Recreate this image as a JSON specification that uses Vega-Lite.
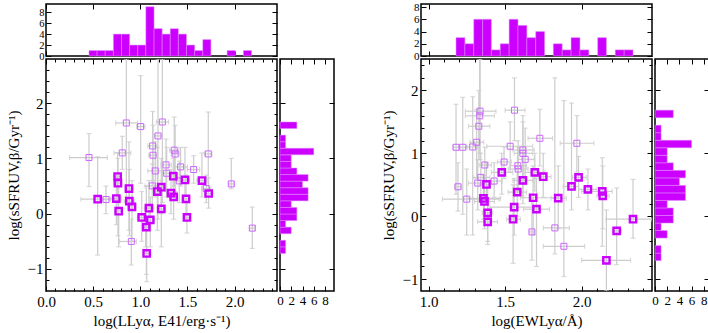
{
"$schema":"https://vega.github.io/schema/vega-lite/v6.json",
"padding":{"left":5,"top":0,"right":0,"bottom":0},
"config":{"font":"Liberation Serif","view":{"stroke":"black","strokeWidth":1.5},
"axis":{"domain":false,"grid":false,"tickColor":"black","tickWidth":1,"tickSize":-5,"labelPadding":8,"labelFontSize":15,"titleFontSize":15,"titleFontWeight":"normal","labelColor":"black","titleColor":"black","labelFont":"Liberation Serif","titleFont":"Liberation Serif","labelFlush":false,"labelOverlap":false,"labelBound":false}},
"datasets":{
"ptsL":[
{"k":"t","x":0.456,"y":1.016,"xlo":0.25,"xhi":0.65,"ylo":0.49,"yhi":1.45},
{"k":"t","x":0.852,"y":1.642,"xlo":0.74,"xhi":0.97,"ylo":0.3,"yhi":2.8},
{"k":"t","x":1.004,"y":1.576,"xlo":0.96,"xhi":1.05,"ylo":0.55,"yhi":2.5},
{"k":"t","x":1.234,"y":1.66,"xlo":1.17,"xhi":1.3,"ylo":0.2,"yhi":2.8},
{"k":"t","x":1.188,"y":1.407,"xlo":1.15,"xhi":1.23,"ylo":-0.1,"yhi":2.8},
{"k":"t","x":1.131,"y":1.226,"xlo":1.08,"xhi":1.18,"ylo":0.6,"yhi":1.85},
{"k":"t","x":1.135,"y":1.058,"xlo":1.09,"xhi":1.18,"ylo":0.5,"yhi":1.6},
{"k":"t","x":0.809,"y":1.1,"xlo":0.72,"xhi":0.9,"ylo":0.8,"yhi":1.4},
{"k":"t","x":1.36,"y":1.15,"xlo":1.31,"xhi":1.41,"ylo":0.5,"yhi":1.75},
{"k":"t","x":1.37,"y":1.08,"xlo":1.33,"xhi":1.42,"ylo":0.4,"yhi":1.6},
{"k":"t","x":1.721,"y":1.082,"xlo":1.68,"xhi":1.76,"ylo":0.45,"yhi":1.84},
{"k":"t","x":0.636,"y":0.256,"xlo":0.6,"xhi":0.68,"ylo":0.0,"yhi":0.5},
{"k":"t","x":1.159,"y":0.774,"xlo":1.08,"xhi":1.24,"ylo":0.3,"yhi":1.3},
{"k":"t","x":1.273,"y":0.883,"xlo":1.22,"xhi":1.33,"ylo":0.4,"yhi":1.35},
{"k":"t","x":1.428,"y":0.847,"xlo":1.36,"xhi":1.5,"ylo":0.5,"yhi":1.2},
{"k":"t","x":1.28,"y":0.732,"xlo":1.23,"xhi":1.33,"ylo":0.3,"yhi":1.2},
{"k":"t","x":1.566,"y":0.799,"xlo":1.5,"xhi":1.63,"ylo":0.55,"yhi":1.05},
{"k":"t","x":1.414,"y":0.593,"xlo":1.35,"xhi":1.48,"ylo":0.2,"yhi":0.95},
{"k":"t","x":1.127,"y":0.503,"xlo":1.05,"xhi":1.2,"ylo":0.1,"yhi":0.9},
{"k":"t","x":1.7,"y":0.455,"xlo":1.65,"xhi":1.75,"ylo":0.2,"yhi":0.7},
{"k":"t","x":1.965,"y":0.539,"xlo":1.94,"xhi":1.99,"ylo":0.45,"yhi":1.0},
{"k":"t","x":0.905,"y":-0.503,"xlo":0.78,"xhi":0.96,"ylo":-0.93,"yhi":-0.1},
{"k":"t","x":1.057,"y":-0.244,"xlo":1.01,"xhi":1.1,"ylo":-0.6,"yhi":0.1},
{"k":"t","x":2.188,"y":-0.262,"xlo":2.16,"xhi":2.21,"ylo":-0.63,"yhi":0.12},
{"k":"T","x":0.548,"y":0.262,"xlo":0.37,"xhi":0.74,"ylo":-0.75,"yhi":1.03},
{"k":"T","x":0.76,"y":0.673,"xlo":0.72,"xhi":0.8,"ylo":0.2,"yhi":1.1},
{"k":"T","x":0.763,"y":0.552,"xlo":0.72,"xhi":0.8,"ylo":-0.4,"yhi":1.0},
{"k":"T","x":0.88,"y":0.455,"xlo":0.84,"xhi":0.92,"ylo":-0.3,"yhi":1.3},
{"k":"T","x":0.746,"y":0.274,"xlo":0.68,"xhi":0.8,"ylo":-0.2,"yhi":0.7},
{"k":"T","x":0.884,"y":0.226,"xlo":0.83,"xhi":0.94,"ylo":-0.4,"yhi":0.8},
{"k":"T","x":0.912,"y":0.123,"xlo":0.87,"xhi":0.95,"ylo":-0.5,"yhi":0.6},
{"k":"T","x":0.771,"y":0.045,"xlo":0.73,"xhi":0.81,"ylo":-0.6,"yhi":0.5},
{"k":"T","x":1.015,"y":-0.069,"xlo":0.97,"xhi":1.06,"ylo":-0.5,"yhi":0.4},
{"k":"T","x":1.092,"y":0.099,"xlo":1.05,"xhi":1.13,"ylo":-0.3,"yhi":0.6},
{"k":"T","x":1.106,"y":-0.112,"xlo":1.06,"xhi":1.15,"ylo":-0.6,"yhi":0.3},
{"k":"T","x":1.064,"y":-0.244,"xlo":1.02,"xhi":1.11,"ylo":-1.1,"yhi":0.5},
{"k":"T","x":1.181,"y":0.401,"xlo":1.14,"xhi":1.22,"ylo":-0.3,"yhi":1.2},
{"k":"T","x":1.223,"y":0.479,"xlo":1.19,"xhi":1.26,"ylo":0.0,"yhi":1.0},
{"k":"T","x":1.35,"y":0.678,"xlo":1.31,"xhi":1.39,"ylo":0.3,"yhi":1.0},
{"k":"T","x":1.326,"y":0.371,"xlo":1.28,"xhi":1.37,"ylo":0.0,"yhi":0.8},
{"k":"T","x":1.354,"y":0.304,"xlo":1.31,"xhi":1.4,"ylo":-0.1,"yhi":0.7},
{"k":"T","x":1.223,"y":0.087,"xlo":1.18,"xhi":1.27,"ylo":-0.6,"yhi":0.6},
{"k":"T","x":1.474,"y":0.611,"xlo":1.43,"xhi":1.52,"ylo":0.2,"yhi":1.2},
{"k":"T","x":1.485,"y":0.268,"xlo":1.45,"xhi":1.52,"ylo":-0.1,"yhi":0.7},
{"k":"T","x":1.495,"y":-0.069,"xlo":1.46,"xhi":1.53,"ylo":-0.35,"yhi":0.2},
{"k":"T","x":1.654,"y":0.599,"xlo":1.6,"xhi":1.71,"ylo":0.3,"yhi":1.1},
{"k":"T","x":1.725,"y":0.365,"xlo":1.68,"xhi":1.77,"ylo":0.1,"yhi":0.65},
{"k":"T","x":1.068,"y":-0.72,"xlo":1.03,"xhi":1.11,"ylo":-1.23,"yhi":-0.24}
],
"ptsR":[
{"k":"t","x":1.179,"y":1.096,"xlo":1.16,"xhi":1.2,"ylo":0.35,"yhi":1.78},
{"k":"t","x":1.223,"y":1.096,"xlo":1.2,"xhi":1.25,"ylo":0.03,"yhi":1.89},
{"k":"t","x":1.192,"y":0.468,"xlo":1.17,"xhi":1.21,"ylo":0.08,"yhi":0.85},
{"k":"t","x":1.249,"y":0.271,"xlo":1.09,"xhi":1.46,"ylo":-0.3,"yhi":0.75},
{"k":"t","x":1.288,"y":1.101,"xlo":1.25,"xhi":1.32,"ylo":-0.3,"yhi":1.9},
{"k":"t","x":1.314,"y":1.176,"xlo":1.27,"xhi":1.36,"ylo":0.6,"yhi":1.7},
{"k":"t","x":1.328,"y":1.431,"xlo":1.26,"xhi":1.4,"ylo":0.9,"yhi":2.0},
{"k":"t","x":1.334,"y":1.596,"xlo":1.24,"xhi":1.43,"ylo":1.0,"yhi":2.5},
{"k":"t","x":1.336,"y":1.67,"xlo":1.24,"xhi":1.44,"ylo":0.9,"yhi":2.5},
{"k":"t","x":1.321,"y":0.527,"xlo":1.26,"xhi":1.38,"ylo":0.1,"yhi":0.9},
{"k":"t","x":1.341,"y":0.617,"xlo":1.29,"xhi":1.4,"ylo":0.25,"yhi":1.0},
{"k":"t","x":1.367,"y":0.814,"xlo":1.33,"xhi":1.41,"ylo":0.5,"yhi":1.1},
{"k":"t","x":1.428,"y":0.559,"xlo":1.37,"xhi":1.48,"ylo":0.3,"yhi":0.85},
{"k":"t","x":1.493,"y":0.862,"xlo":1.45,"xhi":1.54,"ylo":0.6,"yhi":1.1},
{"k":"t","x":1.533,"y":1.112,"xlo":1.38,"xhi":1.68,"ylo":0.7,"yhi":1.5},
{"k":"t","x":1.561,"y":1.686,"xlo":1.5,"xhi":1.63,"ylo":1.2,"yhi":2.2},
{"k":"t","x":1.583,"y":0.803,"xlo":1.53,"xhi":1.64,"ylo":0.5,"yhi":1.1},
{"k":"t","x":1.585,"y":0.75,"xlo":1.52,"xhi":1.65,"ylo":0.4,"yhi":1.2},
{"k":"t","x":1.616,"y":1.053,"xlo":1.55,"xhi":1.69,"ylo":0.6,"yhi":1.5},
{"k":"t","x":1.616,"y":1.0,"xlo":1.56,"xhi":1.68,"ylo":0.3,"yhi":1.6},
{"k":"t","x":1.631,"y":0.904,"xlo":1.58,"xhi":1.69,"ylo":0.5,"yhi":1.4},
{"k":"t","x":1.727,"y":1.239,"xlo":1.65,"xhi":1.81,"ylo":0.8,"yhi":1.7},
{"k":"t","x":1.675,"y":-0.25,"xlo":1.66,"xhi":1.69,"ylo":-0.7,"yhi":0.3},
{"k":"t","x":1.825,"y":-0.186,"xlo":1.75,"xhi":1.92,"ylo":-0.6,"yhi":2.2},
{"k":"t","x":1.884,"y":-0.479,"xlo":1.75,"xhi":2.02,"ylo":-0.96,"yhi":1.84},
{"k":"t","x":1.969,"y":1.16,"xlo":1.86,"xhi":2.08,"ylo":0.7,"yhi":1.6},
{"k":"T","x":1.378,"y":0.505,"xlo":1.33,"xhi":1.43,"ylo":0.2,"yhi":0.85},
{"k":"T","x":1.358,"y":0.282,"xlo":1.25,"xhi":1.47,"ylo":-0.05,"yhi":0.65},
{"k":"T","x":1.365,"y":0.234,"xlo":1.3,"xhi":1.43,"ylo":-0.2,"yhi":0.6},
{"k":"T","x":1.386,"y":0.053,"xlo":1.35,"xhi":1.42,"ylo":-0.4,"yhi":0.5},
{"k":"T","x":1.386,"y":-0.09,"xlo":1.32,"xhi":1.45,"ylo":-0.45,"yhi":0.3},
{"k":"T","x":1.478,"y":0.697,"xlo":1.41,"xhi":1.55,"ylo":0.35,"yhi":1.0},
{"k":"T","x":1.579,"y":0.383,"xlo":1.52,"xhi":1.64,"ylo":0.0,"yhi":0.8},
{"k":"T","x":1.559,"y":0.144,"xlo":1.4,"xhi":1.72,"ylo":-0.3,"yhi":0.6},
{"k":"T","x":1.552,"y":-0.048,"xlo":1.51,"xhi":1.6,"ylo":-0.75,"yhi":0.5},
{"k":"T","x":1.616,"y":0.569,"xlo":1.55,"xhi":1.68,"ylo":0.2,"yhi":1.0},
{"k":"T","x":1.694,"y":0.697,"xlo":1.63,"xhi":1.76,"ylo":0.4,"yhi":1.0},
{"k":"T","x":1.683,"y":0.293,"xlo":1.6,"xhi":1.85,"ylo":-0.3,"yhi":0.8},
{"k":"T","x":1.705,"y":0.112,"xlo":1.62,"xhi":1.79,"ylo":-0.8,"yhi":0.6},
{"k":"T","x":1.749,"y":0.628,"xlo":1.7,"xhi":1.8,"ylo":0.3,"yhi":1.0},
{"k":"T","x":1.847,"y":0.287,"xlo":1.8,"xhi":1.9,"ylo":-0.2,"yhi":0.8},
{"k":"T","x":1.934,"y":0.473,"xlo":1.88,"xhi":1.98,"ylo":0.1,"yhi":1.8},
{"k":"T","x":1.98,"y":0.617,"xlo":1.94,"xhi":2.03,"ylo":0.3,"yhi":0.95},
{"k":"T","x":2.041,"y":0.426,"xlo":1.98,"xhi":2.1,"ylo":0.1,"yhi":0.75},
{"k":"T","x":2.135,"y":0.394,"xlo":2.0,"xhi":2.2,"ylo":-0.48,"yhi":0.93},
{"k":"T","x":2.138,"y":0.324,"xlo":2.1,"xhi":2.18,"ylo":-0.2,"yhi":0.8},
{"k":"T","x":2.229,"y":-0.234,"xlo":2.2,"xhi":2.26,"ylo":-0.77,"yhi":0.45},
{"k":"T","x":2.162,"y":-0.702,"xlo":2.0,"xhi":2.32,"ylo":-1.19,"yhi":0.1},
{"k":"T","x":2.336,"y":-0.048,"xlo":2.16,"xhi":2.46,"ylo":-0.35,"yhi":0.585}
],
"hTL":[
{"lo":0.456,"hi":0.542,"n":1},{"lo":0.542,"hi":0.628,"n":1},{"lo":0.628,"hi":0.715,"n":1},{"lo":0.715,"hi":0.801,"n":4},{"lo":0.801,"hi":0.887,"n":4},{"lo":0.887,"hi":0.973,"n":2},{"lo":0.973,"hi":1.059,"n":2},{"lo":1.059,"hi":1.146,"n":9},{"lo":1.146,"hi":1.232,"n":5},{"lo":1.232,"hi":1.318,"n":4},{"lo":1.318,"hi":1.404,"n":5},{"lo":1.404,"hi":1.49,"n":4},{"lo":1.49,"hi":1.577,"n":2},{"lo":1.577,"hi":1.663,"n":1},{"lo":1.663,"hi":1.749,"n":3},{"lo":1.921,"hi":2.008,"n":1},{"lo":2.094,"hi":2.18,"n":1}
],
"hRL":[
{"lo":-0.72,"hi":-0.601,"n":1},{"lo":-0.601,"hi":-0.482,"n":1},{"lo":-0.363,"hi":-0.244,"n":2},{"lo":-0.244,"hi":-0.125,"n":1},{"lo":-0.125,"hi":-0.006,"n":3},{"lo":-0.006,"hi":0.113,"n":3},{"lo":0.113,"hi":0.232,"n":2},{"lo":0.232,"hi":0.351,"n":5},{"lo":0.351,"hi":0.47,"n":5},{"lo":0.47,"hi":0.589,"n":4},{"lo":0.589,"hi":0.708,"n":5},{"lo":0.708,"hi":0.827,"n":3},{"lo":0.827,"hi":0.946,"n":2},{"lo":0.946,"hi":1.065,"n":2},{"lo":1.065,"hi":1.184,"n":6},{"lo":1.184,"hi":1.303,"n":1},{"lo":1.303,"hi":1.422,"n":1},{"lo":1.541,"hi":1.66,"n":3}
],
"hTR":[
{"lo":1.179,"hi":1.237,"n":3},{"lo":1.237,"hi":1.295,"n":2},{"lo":1.295,"hi":1.353,"n":6},{"lo":1.353,"hi":1.41,"n":6},{"lo":1.41,"hi":1.468,"n":1},{"lo":1.468,"hi":1.526,"n":2},{"lo":1.526,"hi":1.584,"n":6},{"lo":1.584,"hi":1.642,"n":5},{"lo":1.642,"hi":1.7,"n":3},{"lo":1.7,"hi":1.758,"n":4},{"lo":1.815,"hi":1.873,"n":2},{"lo":1.873,"hi":1.931,"n":1},{"lo":1.931,"hi":1.989,"n":3},{"lo":1.989,"hi":2.047,"n":1},{"lo":2.105,"hi":2.162,"n":3},{"lo":2.22,"hi":2.278,"n":1},{"lo":2.278,"hi":2.336,"n":1}
],
"hRR":[
{"lo":-0.707,"hi":-0.587,"n":1},{"lo":-0.587,"hi":-0.468,"n":1},{"lo":-0.348,"hi":-0.228,"n":2},{"lo":-0.228,"hi":-0.109,"n":1},{"lo":-0.109,"hi":0.011,"n":3},{"lo":0.011,"hi":0.131,"n":3},{"lo":0.131,"hi":0.25,"n":2},{"lo":0.25,"hi":0.37,"n":5},{"lo":0.37,"hi":0.49,"n":5},{"lo":0.49,"hi":0.609,"n":4},{"lo":0.609,"hi":0.729,"n":5},{"lo":0.729,"hi":0.849,"n":3},{"lo":0.849,"hi":0.968,"n":2},{"lo":0.968,"hi":1.088,"n":2},{"lo":1.088,"hi":1.207,"n":6},{"lo":1.207,"hi":1.327,"n":1},{"lo":1.327,"hi":1.447,"n":1},{"lo":1.566,"hi":1.686,"n":3}
]
},
"spacing":44,
"hconcat":[
{"spacing":3,"bounds":"flush","vconcat":[
 {"width":231,"height":52,"resolve":{"axis":{"x":"independent","y":"independent"}},
  "layer":[
   {"data":{"name":"hTL"},"mark":{"type":"bar","color":"#cc00ff","stroke":"#e08aff","strokeWidth":0.5},
    "encoding":{"x":{"field":"lo","type":"quantitative","scale":{"domain":[0,2.45],"nice":false,"zero":false},"axis":{"orient":"bottom","values":[0,0.5,1,1.5,2],"labels":false,"title":null}},
     "x2":{"field":"hi"},
     "y":{"field":"n","type":"quantitative","scale":{"domain":[0,9.5],"nice":false},"axis":{"orient":"left","values":[0,2,4,6,8],"title":null,"labelFontSize":10.5,"labelPadding":7}},
     "y2":{"datum":0}}},
   {"data":{"name":"hTL"},"mark":{"type":"point","opacity":0},
    "encoding":{"x":{"field":"lo","type":"quantitative","scale":{"domain":[0,2.45],"nice":false,"zero":false},"axis":{"orient":"top","values":[0,0.5,1,1.5,2],"labels":false,"title":null}},
     "y":{"field":"n","type":"quantitative","scale":{"domain":[0,9.5],"nice":false},"axis":{"orient":"right","values":[0,2,4,6,8],"labels":false,"title":null}}}}
  ]},
 {"spacing":3,"bounds":"flush","hconcat":[
  {"width":231,"height":232,"resolve":{"axis":{"x":"independent","y":"independent"}},
   "layer":[
    {"data":{"name":"ptsL"},"mark":{"type":"errorbar","ticks":true,"size":5,"thickness":1.2,"color":"#cccccc","clip":true},
     "encoding":{"x":{"field":"x","type":"quantitative","scale":{"domain":[0,2.45],"nice":false,"zero":false},"axis":null},
      "y":{"field":"ylo","type":"quantitative","scale":{"domain":[-1.4,2.8],"nice":false,"zero":false},"axis":null},
      "y2":{"field":"yhi"}}},
    {"data":{"name":"ptsL"},"mark":{"type":"errorbar","ticks":true,"size":5,"thickness":1.2,"color":"#cccccc","clip":true},
     "encoding":{"x":{"field":"xlo","type":"quantitative","scale":{"domain":[0,2.45],"nice":false,"zero":false},"axis":null},
      "x2":{"field":"xhi"},
      "y":{"field":"y","type":"quantitative","scale":{"domain":[-1.4,2.8],"nice":false,"zero":false},"axis":null}}},
    {"data":{"name":"ptsL"},"transform":[{"filter":"datum.k=='t'"}],
     "mark":{"type":"point","shape":"square","filled":false,"size":36,"strokeWidth":1,"color":"#cc66ff","opacity":1},
     "encoding":{"x":{"field":"x","type":"quantitative","scale":{"domain":[0,2.45],"nice":false,"zero":false},"axis":{"orient":"top","values":[0,0.5,1,1.5,2],"labels":false,"title":null}},
      "y":{"field":"y","type":"quantitative","scale":{"domain":[-1.4,2.8],"nice":false,"zero":false},"axis":{"orient":"right","values":[-1,0,1,2],"labels":false,"title":null}}}},
    {"data":{"name":"ptsL"},"transform":[{"filter":"datum.k=='T'"}],
     "mark":{"type":"point","shape":"square","filled":false,"size":40,"strokeWidth":2.4,"color":"#cc00ff","opacity":1},
     "encoding":{"x":{"field":"x","type":"quantitative","scale":{"domain":[0,2.45],"nice":false,"zero":false},"axis":{"orient":"bottom","values":[0,0.5,1,1.5,2],"format":".1f","title":"log(LLyα, E41/erg·s⁻¹)","titlePadding":4}},
      "y":{"field":"y","type":"quantitative","scale":{"domain":[-1.4,2.8],"nice":false,"zero":false},"axis":{"orient":"left","values":[-1,0,1,2],"format":"d","title":"log(sSFRUV,β/Gyr⁻¹)","titlePadding":6}}}},
    {"data":{"name":"ptsL"},"mark":{"type":"point","opacity":0},
     "encoding":{"x":{"field":"x","type":"quantitative","scale":{"domain":[0,2.45],"nice":false,"zero":false},"axis":{"orient":"bottom","values":[0.1,0.2,0.3,0.4,0.6,0.7,0.8,0.9,1.1,1.2,1.3,1.4,1.6,1.7,1.8,1.9,2.1,2.2,2.3,2.4],"labels":false,"title":null,"tickSize":-3}},
      "y":{"field":"y","type":"quantitative","scale":{"domain":[-1.4,2.8],"nice":false,"zero":false},"axis":{"orient":"left","values":[-1.2,-0.8,-0.6,-0.4,-0.2,0.2,0.4,0.6,0.8,1.2,1.4,1.6,1.8,2.2,2.4,2.6],"labels":false,"title":null,"tickSize":-3}}}},
    {"data":{"name":"ptsL"},"mark":{"type":"point","opacity":0},
     "encoding":{"x":{"field":"x","type":"quantitative","scale":{"domain":[0,2.45],"nice":false,"zero":false},"axis":{"orient":"top","values":[0.1,0.2,0.3,0.4,0.6,0.7,0.8,0.9,1.1,1.2,1.3,1.4,1.6,1.7,1.8,1.9,2.1,2.2,2.3,2.4],"labels":false,"title":null,"tickSize":-3}},
      "y":{"field":"y","type":"quantitative","scale":{"domain":[-1.4,2.8],"nice":false,"zero":false},"axis":{"orient":"right","values":[-1.2,-0.8,-0.6,-0.4,-0.2,0.2,0.4,0.6,0.8,1.2,1.4,1.6,1.8,2.2,2.4,2.6],"labels":false,"title":null,"tickSize":-3}}}}
   ]},
  {"width":54,"height":232,"resolve":{"axis":{"x":"independent","y":"independent"}},
   "layer":[
    {"data":{"name":"hRL"},"mark":{"type":"bar","color":"#cc00ff","stroke":"#e08aff","strokeWidth":0.5},
     "encoding":{"y":{"field":"lo","type":"quantitative","scale":{"domain":[-1.4,2.8],"nice":false,"zero":false},"axis":{"orient":"left","values":[-1,0,1,2],"labels":false,"title":null}},
      "y2":{"field":"hi"},
      "x":{"field":"n","type":"quantitative","scale":{"domain":[0,9.6],"nice":false},"axis":{"orient":"bottom","values":[0,2,4,6,8],"title":null,"labelFontSize":13}},
      "x2":{"datum":0}}},
    {"data":{"name":"hRL"},"mark":{"type":"point","opacity":0},
     "encoding":{"y":{"field":"lo","type":"quantitative","scale":{"domain":[-1.4,2.8],"nice":false,"zero":false},"axis":{"orient":"right","values":[-1,0,1,2],"labels":false,"title":null}},
      "x":{"field":"n","type":"quantitative","scale":{"domain":[0,9.6],"nice":false},"axis":{"orient":"top","values":[0,2,4,6,8],"labels":false,"title":null}}}}
   ]}
 ]}
]},
{"spacing":3,"bounds":"flush","vconcat":[
 {"width":231,"height":52,"resolve":{"axis":{"x":"independent","y":"independent"}},
  "layer":[
   {"data":{"name":"hTR"},"mark":{"type":"bar","color":"#cc00ff","stroke":"#e08aff","strokeWidth":0.5},
    "encoding":{"x":{"field":"lo","type":"quantitative","scale":{"domain":[0.95,2.46],"nice":false,"zero":false},"axis":{"orient":"bottom","values":[1,1.5,2],"labels":false,"title":null}},
     "x2":{"field":"hi"},
     "y":{"field":"n","type":"quantitative","scale":{"domain":[0,8.5],"nice":false},"axis":{"orient":"left","values":[0,2,4,6,8],"title":null,"labelFontSize":11,"labelPadding":7}},
     "y2":{"datum":0}}},
   {"data":{"name":"hTR"},"mark":{"type":"point","opacity":0},
    "encoding":{"x":{"field":"lo","type":"quantitative","scale":{"domain":[0.95,2.46],"nice":false,"zero":false},"axis":{"orient":"top","values":[1,1.5,2],"labels":false,"title":null}},
     "y":{"field":"n","type":"quantitative","scale":{"domain":[0,8.5],"nice":false},"axis":{"orient":"right","values":[0,2,4,6,8],"labels":false,"title":null}}}}
  ]},
 {"spacing":3,"bounds":"flush","hconcat":[
  {"width":231,"height":232,"resolve":{"axis":{"x":"independent","y":"independent"}},
   "layer":[
    {"data":{"name":"ptsR"},"mark":{"type":"errorbar","ticks":true,"size":5,"thickness":1.2,"color":"#cccccc","clip":true},
     "encoding":{"x":{"field":"x","type":"quantitative","scale":{"domain":[0.95,2.46],"nice":false,"zero":false},"axis":null},
      "y":{"field":"ylo","type":"quantitative","scale":{"domain":[-1.19,2.5],"nice":false,"zero":false},"axis":null},
      "y2":{"field":"yhi"}}},
    {"data":{"name":"ptsR"},"mark":{"type":"errorbar","ticks":true,"size":5,"thickness":1.2,"color":"#cccccc","clip":true},
     "encoding":{"x":{"field":"xlo","type":"quantitative","scale":{"domain":[0.95,2.46],"nice":false,"zero":false},"axis":null},
      "x2":{"field":"xhi"},
      "y":{"field":"y","type":"quantitative","scale":{"domain":[-1.19,2.5],"nice":false,"zero":false},"axis":null}}},
    {"data":{"name":"ptsR"},"transform":[{"filter":"datum.k=='t'"}],
     "mark":{"type":"point","shape":"square","filled":false,"size":36,"strokeWidth":1,"color":"#cc66ff","opacity":1},
     "encoding":{"x":{"field":"x","type":"quantitative","scale":{"domain":[0.95,2.46],"nice":false,"zero":false},"axis":{"orient":"top","values":[1,1.5,2],"labels":false,"title":null}},
      "y":{"field":"y","type":"quantitative","scale":{"domain":[-1.19,2.5],"nice":false,"zero":false},"axis":{"orient":"right","values":[-1,0,1,2],"labels":false,"title":null}}}},
    {"data":{"name":"ptsR"},"transform":[{"filter":"datum.k=='T'"}],
     "mark":{"type":"point","shape":"square","filled":false,"size":40,"strokeWidth":2.4,"color":"#cc00ff","opacity":1},
     "encoding":{"x":{"field":"x","type":"quantitative","scale":{"domain":[0.95,2.46],"nice":false,"zero":false},"axis":{"orient":"bottom","values":[1,1.5,2],"format":".1f","title":"log(EWLyα/Å)","titlePadding":4}},
      "y":{"field":"y","type":"quantitative","scale":{"domain":[-1.19,2.5],"nice":false,"zero":false},"axis":{"orient":"left","values":[-1,0,1,2],"format":"d","title":"log(sSFRUV,β/Gyr⁻¹)","titlePadding":6}}}},
    {"data":{"name":"ptsR"},"mark":{"type":"point","opacity":0},
     "encoding":{"x":{"field":"x","type":"quantitative","scale":{"domain":[0.95,2.46],"nice":false,"zero":false},"axis":{"orient":"bottom","values":[1.1,1.2,1.3,1.4,1.6,1.7,1.8,1.9,2.1,2.2,2.3,2.4],"labels":false,"title":null,"tickSize":-3}},
      "y":{"field":"y","type":"quantitative","scale":{"domain":[-1.19,2.5],"nice":false,"zero":false},"axis":{"orient":"left","values":[-0.8,-0.6,-0.4,-0.2,0.2,0.4,0.6,0.8,1.2,1.4,1.6,1.8,2.2,2.4],"labels":false,"title":null,"tickSize":-3}}}},
    {"data":{"name":"ptsR"},"mark":{"type":"point","opacity":0},
     "encoding":{"x":{"field":"x","type":"quantitative","scale":{"domain":[0.95,2.46],"nice":false,"zero":false},"axis":{"orient":"top","values":[1.1,1.2,1.3,1.4,1.6,1.7,1.8,1.9,2.1,2.2,2.3,2.4],"labels":false,"title":null,"tickSize":-3}},
      "y":{"field":"y","type":"quantitative","scale":{"domain":[-1.19,2.5],"nice":false,"zero":false},"axis":{"orient":"right","values":[-0.8,-0.6,-0.4,-0.2,0.2,0.4,0.6,0.8,1.2,1.4,1.6,1.8,2.2,2.4],"labels":false,"title":null,"tickSize":-3}}}}
   ]},
  {"width":54,"height":232,"resolve":{"axis":{"x":"independent","y":"independent"}},
   "layer":[
    {"data":{"name":"hRR"},"mark":{"type":"bar","color":"#cc00ff","stroke":"#e08aff","strokeWidth":0.5},
     "encoding":{"y":{"field":"lo","type":"quantitative","scale":{"domain":[-1.19,2.5],"nice":false,"zero":false},"axis":{"orient":"left","values":[-1,0,1,2],"labels":false,"title":null}},
      "y2":{"field":"hi"},
      "x":{"field":"n","type":"quantitative","scale":{"domain":[0,8.85],"nice":false},"axis":{"orient":"bottom","values":[0,2,4,6,8],"title":null,"labelFontSize":13}},
      "x2":{"datum":0}}},
    {"data":{"name":"hRR"},"mark":{"type":"point","opacity":0},
     "encoding":{"y":{"field":"lo","type":"quantitative","scale":{"domain":[-1.19,2.5],"nice":false,"zero":false},"axis":{"orient":"right","values":[-1,0,1,2],"labels":false,"title":null}},
      "x":{"field":"n","type":"quantitative","scale":{"domain":[0,8.85],"nice":false},"axis":{"orient":"top","values":[0,2,4,6,8],"labels":false,"title":null}}}}
   ]}
 ]}
]}
]
}
